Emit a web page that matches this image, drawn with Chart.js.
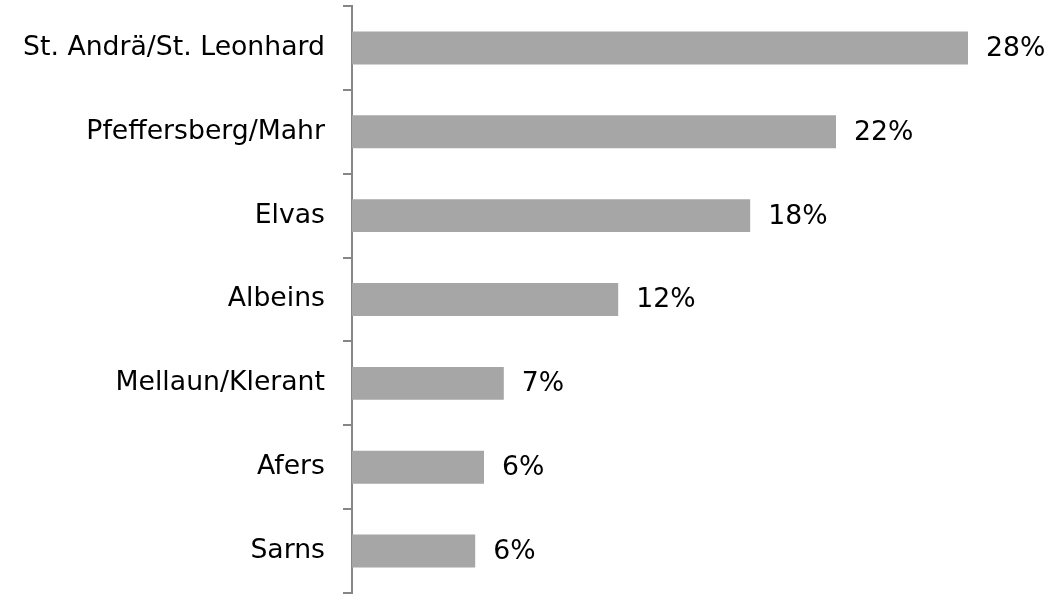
<!DOCTYPE html>
<html>
<head>
<meta charset="utf-8">
<script src="https://cdn.jsdelivr.net/npm/chart.js@4/dist/chart.umd.min.js"></script>
<style>
html,body{margin:0;padding:0;background:#fff;}
#wrap{width:1053px;height:596px;position:relative;}
</style>
</head>
<body>
<div id="wrap"><canvas id="c" width="1053" height="596"></canvas></div>
<script>
const categories = ['St. Andrä/St. Leonhard','Pfeffersberg/Mahr','Elvas','Albeins','Mellaun/Klerant','Afers','Sarns'];
const values = [28.0, 22.0, 18.1, 12.1, 6.9, 6.0, 5.6];
const valueLabels = ['28%','22%','18%','12%','7%','6%','6%'];

const FONT = "'DejaVu Sans', Verdana, sans-serif";
const FONT_SIZE = 26.7;

const labelPlugin = {
  id: 'valueLabels',
  afterDatasetsDraw(chart) {
    const ctx = chart.ctx;
    const meta = chart.getDatasetMeta(0);
    ctx.save();
    ctx.font = FONT_SIZE + 'px ' + FONT;
    ctx.fillStyle = '#000';
    ctx.textAlign = 'left';
    ctx.textBaseline = 'middle';
    meta.data.forEach((bar, i) => {
      ctx.fillText(valueLabels[i], bar.x + 18, bar.y + 1);
    });
    ctx.restore();
  }
};

new Chart(document.getElementById('c'), {
  type: 'bar',
  data: {
    labels: categories,
    datasets: [{
      data: values,
      backgroundColor: '#A6A6A6',
      borderWidth: 0,
      categoryPercentage: 1,
      barPercentage: 0.393
    }]
  },
  options: {
    indexAxis: 'y',
    responsive: false,
    animation: false,
    layout: { padding: { top: 6, bottom: 3, left: 0, right: 41 } },
    plugins: { legend: { display: false }, tooltip: { enabled: false } },
    scales: {
      x: { display: false, min: 0, max: 30 },
      y: {
        afterFit(scale) {
          scale.width = 352;
          scale.paddingTop = 0;
          scale.paddingBottom = 0;
        },
        grid: {
          display: true,
          offset: true,
          drawOnChartArea: false,
          drawTicks: true,
          tickLength: 9,
          color: '#868686',
          lineWidth: 2
        },
        border: { display: true, color: '#868686', width: 2 },
        ticks: {
          color: '#000',
          padding: 18,
          font: { family: FONT, size: FONT_SIZE }
        }
      }
    }
  },
  plugins: [labelPlugin]
});
</script>
</body>
</html>
